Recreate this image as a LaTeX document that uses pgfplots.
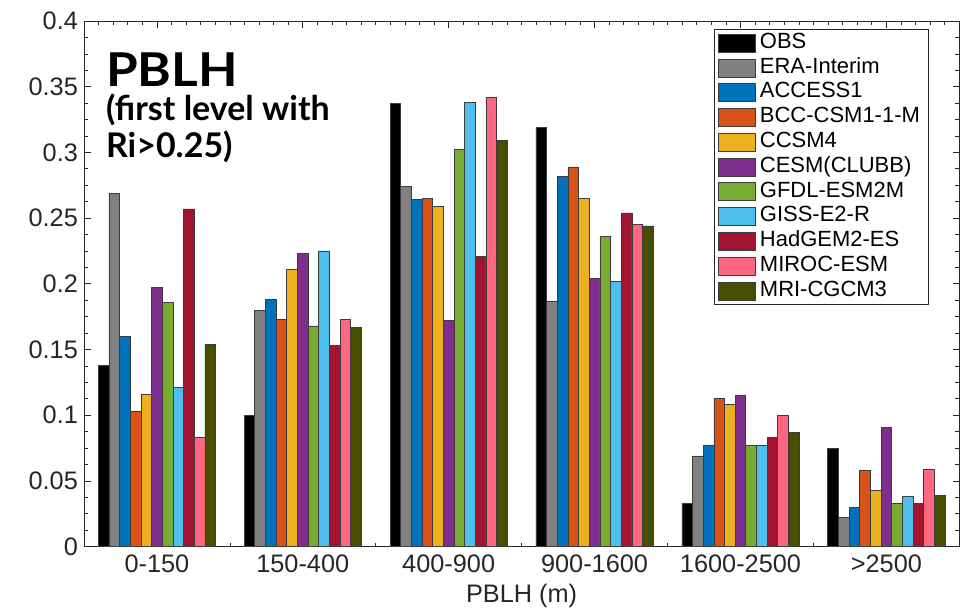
\documentclass[border=0pt]{standalone}
\usepackage{fontspec}
\setmainfont{Liberation Sans}
\newfontfamily\titlefont{Lato}
\newfontfamily\titlefontwide[FakeStretch=1.1]{Lato}
\usepackage{pgfplots}
\pgfplotsset{compat=1.18}
\definecolor{cobs}{RGB}{0,0,0}
\definecolor{cera}{RGB}{128,128,128}
\definecolor{cacc}{RGB}{0,114,189}
\definecolor{cbcc}{RGB}{217,83,25}
\definecolor{cccsm}{RGB}{237,177,32}
\definecolor{ccesm}{RGB}{126,47,142}
\definecolor{cgfdl}{RGB}{119,172,48}
\definecolor{cgiss}{RGB}{77,190,238}
\definecolor{chad}{RGB}{162,20,47}
\definecolor{cmiroc}{RGB}{255,102,128}
\definecolor{cmri}{RGB}{74,78,0}
\definecolor{edge}{RGB}{60,60,60}
\definecolor{axc}{RGB}{38,38,38}
\pgfplotsset{mybar legend/.style={legend image code/.code={\draw[##1] (0pt,-6.75pt) rectangle (27.75pt,6.75pt);}}}
\begin{document}
\begin{tikzpicture}
\path[use as bounding box] (-63pt,-49.5pt) rectangle (657.5pt,410.25pt);
\begin{axis}[
  at={(0,0)}, anchor=south west,
  scale only axis, width=657pt, height=394.5pt,
  xmin=0.5, xmax=6.5, ymin=0, ymax=0.4,
  ybar=0pt, bar width=8pt,
  xtick={1,2,3,4,5,6},
  xticklabels={0-150,150-400,400-900,900-1600,1600-2500,>2500},
  minor xtick={0.6,0.7,0.8,0.9,1.1,1.2,1.3,1.4,1.5,1.6,1.7,1.8,1.9,2.1,2.2,2.3,2.4,2.5,2.6,2.7,2.8,2.9,3.1,3.2,3.3,3.4,3.5,3.6,3.7,3.8,3.9,4.1,4.2,4.3,4.4,4.5,4.6,4.7,4.8,4.9,5.1,5.2,5.3,5.4,5.5,5.6,5.7,5.8,5.9,6.1,6.2,6.3,6.4},
  ytick={0,0.05,0.1,0.15,0.2,0.25,0.3,0.35,0.4},
  yticklabels={0,0.05,0.1,0.15,0.2,0.25,0.3,0.35,0.4},
  minor y tick num=3,
  tick align=inside, tick pos=both,
  major tick length=5pt, minor tick length=3pt,
  every tick/.style={axc, line width=0.5pt},
  axis line style={axc, line width=0.6pt},
  ticklabel style={font=\fontsize{19}{20}\selectfont, text=axc},
  xticklabel style={yshift=-3pt},
  yticklabel style={xshift=-1pt},
  xlabel={PBLH (m)},
  xlabel style={font=\fontsize{19}{20}\selectfont, text=axc, yshift=-1.5pt},
  every axis plot post/.append style={mybar legend},
  legend style={at={(0.9646,0.9848)}, anchor=north east, draw=axc, fill=white,
    line width=0.6pt,
    font=\fontsize{16.5}{16.5}\selectfont, inner xsep=3pt, inner ysep=1pt, row sep=0pt,
    nodes={inner xsep=3pt, inner ysep=1.3pt, text height=12pt, text depth=4pt}},
  legend cell align=left,
]
\addplot[fill=cobs, draw=edge, line width=0.5pt] coordinates {(1,0.138) (2,0.100) (3,0.337) (4,0.319) (5,0.033) (6,0.075)};
\addplot[fill=cera, draw=edge, line width=0.5pt] coordinates {(1,0.269) (2,0.180) (3,0.274) (4,0.187) (5,0.069) (6,0.022)};
\addplot[fill=cacc, draw=edge, line width=0.5pt] coordinates {(1,0.160) (2,0.188) (3,0.264) (4,0.282) (5,0.077) (6,0.030)};
\addplot[fill=cbcc, draw=edge, line width=0.5pt] coordinates {(1,0.103) (2,0.173) (3,0.265) (4,0.289) (5,0.113) (6,0.058)};
\addplot[fill=cccsm, draw=edge, line width=0.5pt] coordinates {(1,0.116) (2,0.211) (3,0.259) (4,0.265) (5,0.108) (6,0.043)};
\addplot[fill=ccesm, draw=edge, line width=0.5pt] coordinates {(1,0.197) (2,0.223) (3,0.172) (4,0.204) (5,0.115) (6,0.091)};
\addplot[fill=cgfdl, draw=edge, line width=0.5pt] coordinates {(1,0.186) (2,0.168) (3,0.302) (4,0.236) (5,0.077) (6,0.033)};
\addplot[fill=cgiss, draw=edge, line width=0.5pt] coordinates {(1,0.121) (2,0.225) (3,0.338) (4,0.202) (5,0.077) (6,0.038)};
\addplot[fill=chad, draw=edge, line width=0.5pt] coordinates {(1,0.257) (2,0.153) (3,0.221) (4,0.254) (5,0.083) (6,0.033)};
\addplot[fill=cmiroc, draw=edge, line width=0.5pt] coordinates {(1,0.083) (2,0.173) (3,0.342) (4,0.245) (5,0.100) (6,0.059)};
\addplot[fill=cmri, draw=edge, line width=0.5pt] coordinates {(1,0.154) (2,0.167) (3,0.309) (4,0.244) (5,0.087) (6,0.039)};
\legend{OBS,ERA-Interim,ACCESS1,BCC-CSM1-1-M,CCSM4,CESM(CLUBB),GFDL-ESM2M,GISS-E2-R,HadGEM2-ES,MIROC-ESM,MRI-CGCM3}
\node[anchor=base west, inner sep=0pt, font=\titlefontwide\bfseries\fontsize{35}{35}\selectfont] at (rel axis cs:0.025,0.8751) {PBLH};
\node[anchor=base west, inner sep=0pt, font=\titlefont\bfseries\fontsize{25.5}{25.5}\selectfont] at (rel axis cs:0.025,0.8099) {(first level with};
\node[anchor=base west, inner sep=0pt, font=\titlefont\bfseries\fontsize{25.5}{25.5}\selectfont] at (rel axis cs:0.025,0.7409) {Ri>0.25)};
\end{axis}
\end{tikzpicture}
\end{document}
